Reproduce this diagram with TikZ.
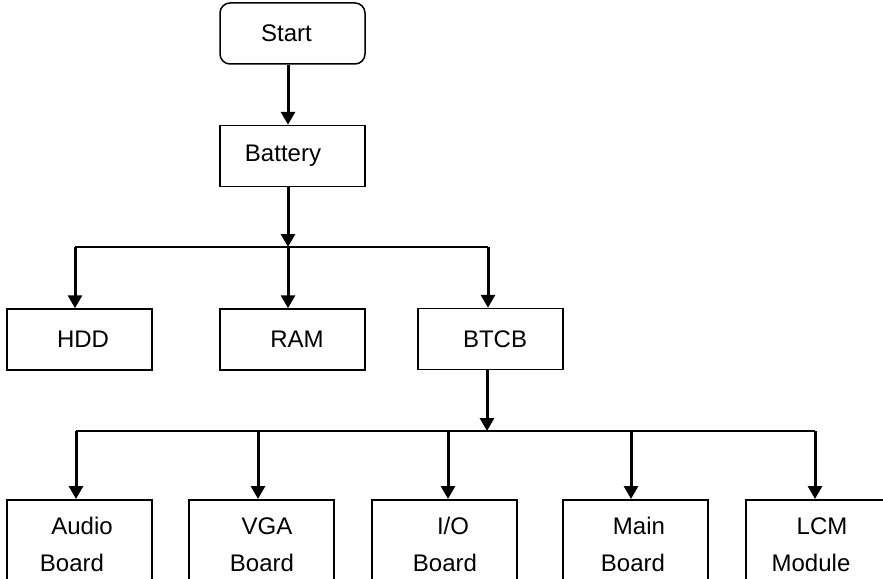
\documentclass[tikz,border=0pt]{standalone}
\usepackage{fontspec}
\setmainfont{Liberation Sans}
\usetikzlibrary{arrows.meta}
\begin{document}
\begin{tikzpicture}[x=1pt,y=-1pt,
  box/.style={draw, line width=1.5pt, minimum width=145pt, minimum height=61pt, inner sep=0pt, font=\fontsize{24}{37}\selectfont},
  bbox/.style={box, minimum height=90pt, align=center, anchor=north},
  arr/.style={line width=3pt, -{Triangle[width=14pt,length=13pt]}},
  bus/.style={line width=1.5pt}]
\useasboundingbox (0,0) rectangle (883,578);
\clip (0,0) rectangle (883,578);
% upper boxes
\node[box, rounded corners=10pt] (start) at (292.5,33.5) {\hspace*{-12pt}Start};
\node[box] (battery) at (292.5,156) {\hspace*{-19pt}Battery};
\node[box] (hdd) at (79.5,339.5) {\hspace*{7pt}HDD};
\node[box] (ram) at (292.5,339.5) {\hspace*{9pt}RAM};
\node[box] (btcb) at (490.5,339) {\hspace*{9pt}BTCB};
% lower boxes
\node[bbox] (audio) at (79.5,499) {\hspace*{5pt}Audio\\\hspace*{-15pt}Board};
\node[bbox] (vga) at (261.5,499) {\hspace*{11pt}VGA\\\hspace*{1pt}Board};
\node[bbox] (io) at (444.5,499) {\hspace*{17pt}I/O\\\hspace*{1pt}Board};
\node[bbox] (main) at (635.5,499) {\hspace*{7pt}Main\\\hspace*{-5pt}Board};
\node[bbox] (lcm) at (818.5,499) {\hspace*{7pt}LCM\\\hspace*{-15pt}Module};
% junction points
\coordinate (j1) at (288,247);
\coordinate (hL) at (75,247);
\coordinate (hR) at (488,247);
\coordinate (j2) at (487,431);
\coordinate (b1) at (76,431);
\coordinate (b2) at (258,431);
\coordinate (b3) at (448,431);
\coordinate (b4) at (631,431);
\coordinate (b5) at (815,431);
% connectors
\draw[arr] (start.south -| j1) -- (battery.north -| j1);
\draw[arr] (battery.south -| j1) -- (j1);
\draw[bus] (hL) -- (hR);
\draw[arr] (hL) -- (hdd.north -| hL);
\draw[arr] (j1) -- (ram.north -| j1);
\draw[arr] (hR) -- (btcb.north -| hR);
\draw[arr] (btcb.south -| j2) -- (j2);
\draw[bus] (b1) -- (b5);
\draw[arr] (b1) -- (audio.north -| b1);
\draw[arr] (b2) -- (vga.north -| b2);
\draw[arr] (b3) -- (io.north -| b3);
\draw[arr] (b4) -- (main.north -| b4);
\draw[arr] (b5) -- (lcm.north -| b5);
\end{tikzpicture}
\end{document}
